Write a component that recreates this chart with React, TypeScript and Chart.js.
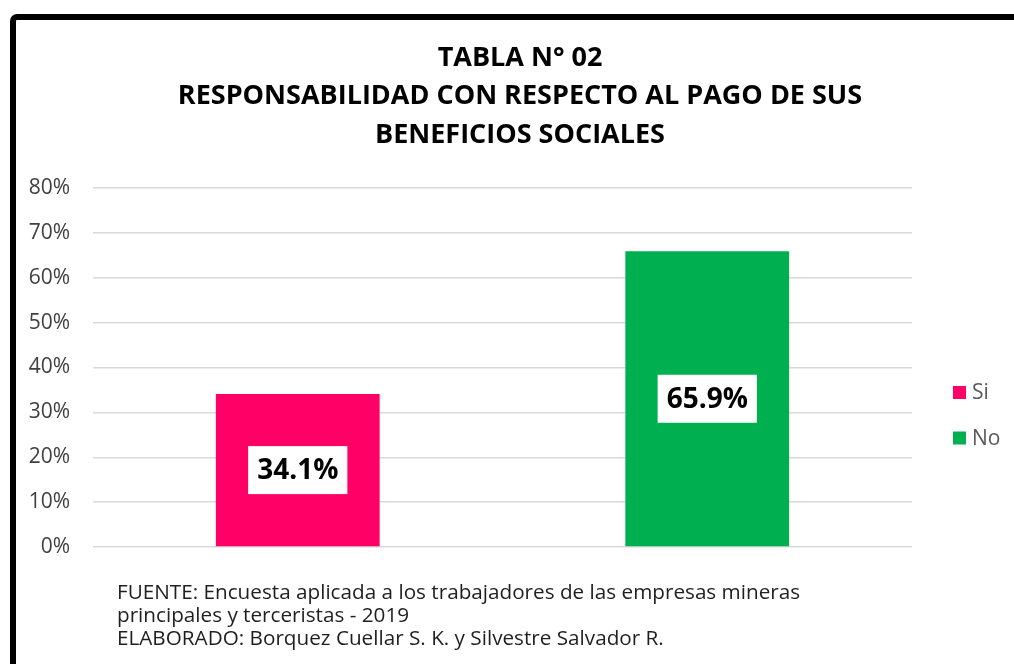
import React, { useEffect, useRef } from "react";
import { Chart, registerables } from "chart.js";

Chart.register(...registerables);

const categories: string[] = ["Si", "No"];
const values: number[] = [34.1, 65.9];
const barColors: string[] = ["#FF0066", "#00B050"];
const yMin = 0;
const yMax = 80;
const yStep = 10;
const titleLines: string[] = [
  "TABLA N° 02",
  "RESPONSABILIDAD CON RESPECTO AL PAGO DE SUS",
  "BENEFICIOS SOCIALES",
];
const footnoteLines: string[] = [
  "FUENTE: Encuesta aplicada a los trabajadores de las empresas mineras",
  "principales y terceristas - 2019",
  "ELABORADO: Borquez Cuellar S. K. y Silvestre Salvador R.",
];

const FONT = '"Open Sans", "DejaVu Sans", sans-serif';

const dataLabelPlugin = {
  id: "boxedLabels",
  afterDatasetsDraw(chart: any) {
    const ctx = chart.ctx;
    const meta = chart.getDatasetMeta(0);
    ctx.save();
    ctx.font = `bold 28px ${FONT}`;
    ctx.textAlign = "center";
    ctx.textBaseline = "middle";
    meta.data.forEach((bar: any, i: number) => {
      const { x, y, base } = bar.getProps(["x", "y", "base"], true);
      const cy = (y + base) / 2;
      const text = values[i].toFixed(1) + "%";
      const w = ctx.measureText(text).width + 18;
      const h = 48;
      ctx.fillStyle = "#FFFFFF";
      ctx.fillRect(x - w / 2, cy - h / 2, w, h);
      ctx.fillStyle = "#000000";
      ctx.fillText(text, x, cy + 1);
    });
    ctx.restore();
  },
};

const legendPlugin = {
  id: "sideLegend",
  afterDraw(chart: any) {
    const ctx = chart.ctx;
    const area = chart.chartArea;
    const x0 = area.right + 41;
    const y0 = area.top + 198;
    const gap = 45.5;
    const size = 13;
    ctx.save();
    ctx.font = `21px ${FONT}`;
    ctx.textAlign = "left";
    ctx.textBaseline = "middle";
    categories.forEach((label, i) => {
      const yy = y0 + i * gap;
      ctx.fillStyle = barColors[i];
      ctx.fillRect(x0, yy, size, size);
      ctx.fillStyle = "#595959";
      ctx.fillText(label, x0 + 19, yy + size / 2 + 1);
    });
    ctx.restore();
  },
};

function ChartCanvas() {
  const ref = useRef<HTMLCanvasElement | null>(null);
  useEffect(() => {
    if (!ref.current) return;
    const chart = new Chart(ref.current, {
      type: "bar",
      data: {
        labels: categories,
        datasets: [
          {
            label: "Respuesta",
            data: values,
            backgroundColor: barColors,
            borderWidth: 0,
            barPercentage: 0.4,
            categoryPercentage: 1.0,
          },
        ],
      },
      options: {
        animation: false,
        responsive: true,
        maintainAspectRatio: false,
        layout: { padding: { left: 0, right: 0, top: 0, bottom: 117 } },
        plugins: {
          legend: { display: false },
          tooltip: { enabled: false },
          title: {
            display: true,
            text: titleLines,
            color: "#000000",
            font: { family: FONT, size: 27, weight: "bold", lineHeight: 38.5 / 27 },
            padding: { top: 18.75, bottom: 33.75 },
          },
        },
        scales: {
          x: { display: false },
          y: {
            min: yMin,
            max: yMax,
            ticks: {
              stepSize: yStep,
              callback: (v: any) => `${v}%`,
              color: "#404040",
              font: { family: FONT, size: 21 },
              padding: 23,
            },
            grid: { color: "#D9D9D9", lineWidth: 1.5, drawTicks: false },
            border: { display: false },
            afterFit: (s: any) => {
              s.width = 77;
            },
          },
          y2: {
            position: "right",
            display: true,
            grid: { display: false },
            ticks: { display: false },
            border: { display: false },
            afterFit: (s: any) => {
              s.width = 112;
            },
          },
        },
      } as any,
      plugins: [dataLabelPlugin, legendPlugin],
    });
    return () => chart.destroy();
  }, []);
  return <canvas ref={ref} />;
}

export default function App() {
  return (
    <div
      style={{
        position: "fixed",
        left: 0,
        top: 0,
        width: 1014,
        height: 664,
        overflow: "hidden",
        background: "#FFFFFF",
      }}
    >
      <div
        style={{
          position: "absolute",
          left: 10,
          top: 14,
          width: 1100,
          height: 700,
          border: "6px solid #000000",
          borderRadius: 7,
          boxSizing: "border-box",
        }}
      />
      <div style={{ position: "absolute", left: 16, top: 20, width: 1008, height: 644 }}>
        <ChartCanvas />
      </div>
      <div
        style={{
          position: "absolute",
          left: 117,
          top: 580,
          fontFamily: FONT,
          fontSize: 20.7,
          lineHeight: "23px",
          color: "#1F1F1F",
          whiteSpace: "nowrap",
        }}
      >
        {footnoteLines.map((l, i) => (
          <div key={i}>{l}</div>
        ))}
      </div>
    </div>
  );
}
